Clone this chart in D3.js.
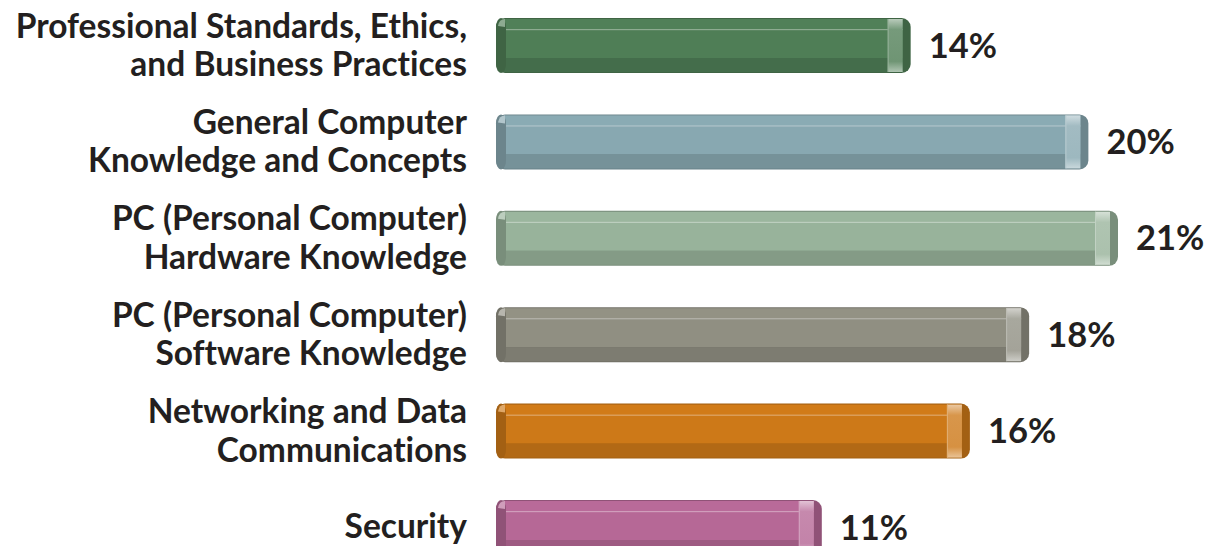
<!DOCTYPE html>
<html><head><meta charset="utf-8">
<script src="https://cdn.jsdelivr.net/npm/d3@7"></script>
<style>
html,body{margin:0;padding:0;background:#fff;}
svg{display:block;}
text{font-family:"Lato","Open Sans",sans-serif;font-weight:700;fill:#231f20;font-variant-ligatures:none;font-feature-settings:"liga" 0;}
</style></head>
<body><svg id="c" width="1210" height="546"></svg>
<script>
const categories = [
  ["Professional Standards, Ethics,", "and Business Practices"],
  ["General Computer", "Knowledge and Concepts"],
  ["PC (Personal Computer)", "Hardware Knowledge"],
  ["PC (Personal Computer)", "Software Knowledge"],
  ["Networking and Data", "Communications"],
  ["Security"]
];
const values = [14, 20, 21, 18, 16, 11];
const valueLabels = ["14%", "20%", "21%", "18%", "16%", "11%"];
const baseColors = ["#4f7e56", "#88a8b1", "#98b39b", "#908f82", "#cd7918", "#b66896"];

const svg = d3.select("#c");
const x = d3.scaleLinear().domain([0, 21]).range([496, 1118]);
const y = d3.scalePoint().domain(d3.range(categories.length)).range([45.5, 527.5]);
const bh = 55;

const defs = svg.append("defs");
values.forEach((v, i) => {
  const c = d3.color(baseColors[i]);
  const g = defs.append("linearGradient").attr("id", "cap" + i).attr("x1", 0).attr("y1", 0).attr("x2", 0).attr("y2", 1);
  g.append("stop").attr("offset", 0).attr("stop-color", d3.interpolateRgb(c, "#fff")(0.6));
  g.append("stop").attr("offset", 0.2).attr("stop-color", d3.interpolateRgb(c, "#fff")(0.22));
  g.append("stop").attr("offset", 0.8).attr("stop-color", d3.interpolateRgb(c, "#fff")(0.18));
  g.append("stop").attr("offset", 1).attr("stop-color", d3.interpolateRgb(c, "#fff")(0.55));
});

const bars = svg.selectAll("g.bar").data(values).join("g").attr("class", "bar");
bars.each(function(v, i) {
  const g = d3.select(this);
  const c = d3.color(baseColors[i]);
  const dark = c.darker(0.4), darker = c.darker(0.65);
  const x0 = x(0), x1 = x(v);
  const cy = y(i);
  const y0 = cy - bh / 2;
  g.append("rect").attr("x", x0).attr("y", y0).attr("width", x1 - x0).attr("height", bh).attr("rx", 9).attr("fill", darker);
  g.append("rect").attr("x", x0 + 8).attr("y", y0 + 1).attr("width", x1 - x0 - 16).attr("height", 11).attr("fill", c.brighter(0.05));
  g.append("rect").attr("x", x0 + 8).attr("y", y0 + 12).attr("width", x1 - x0 - 16).attr("height", bh - 27).attr("fill", c);
  g.append("rect").attr("x", x0 + 8).attr("y", y0 + 11).attr("width", x1 - x0 - 16).attr("height", 1.2).attr("fill", d3.interpolateRgb(c, "#fff")(0.35));
  g.append("rect").attr("x", x0 + 8).attr("y", y0 + bh - 15).attr("width", x1 - x0 - 16).attr("height", 14).attr("fill", dark);
  g.append("rect").attr("x", x0).attr("y", y0).attr("width", 10).attr("height", bh).attr("rx", 9).attr("fill", darker);
  g.append("path").attr("d", `M${x0+2},${y0+8} Q${x0+3},${y0+1} ${x0+9},${y0+1} L${x0+9},${y0+9} Z`).attr("fill", d3.interpolateRgb(c, "#fff")(0.35));
  g.append("rect").attr("x", x1 - 23).attr("y", y0 + 1).attr("width", 15).attr("height", bh - 2).attr("fill", "url(#cap" + i + ")");
  g.append("rect").attr("x", x1 - 23).attr("y", y0 + 1).attr("width", 1).attr("height", bh - 2).attr("fill", d3.interpolateRgb(c, "#fff")(0.4));
  g.append("text").attr("x", x1 + 18).attr("y", cy + 12).attr("font-size", 34.5).text(valueLabels[i]);
  const lines = categories[i];
  const t = g.append("text").attr("text-anchor", "end").attr("font-size", 33.5);
  const lh = 38.5;
  const startY = lines.length > 1 ? cy - 8 : cy + 10;
  lines.forEach((l, k) => t.append("tspan").attr("x", 467).attr("y", startY + k * lh).text(l));
});
</script></body></html>
